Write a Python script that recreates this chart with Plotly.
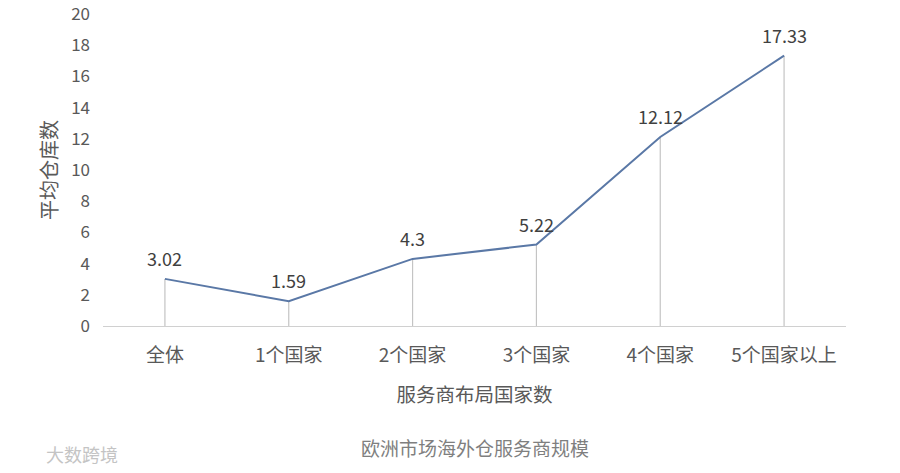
import plotly.graph_objects as go

categories = ["全体", "1个国家", "2个国家", "3个国家", "4个国家", "5个国家以上"]
avg_warehouses = [3.02, 1.59, 4.3, 5.22, 12.12, 17.33]
value_labels = ["3.02", "1.59", "4.3", "5.22", "12.12", "17.33"]
y_ticks = list(range(0, 21, 2))

FONT = "Noto Sans CJK SC, Noto Sans, sans-serif"

fig = go.Figure()

# vertical drop lines from each point to the baseline
fig.add_trace(go.Scatter(
    x=categories, y=avg_warehouses, mode="markers",
    marker=dict(size=0.1, color="rgba(0,0,0,0)"),
    error_y=dict(type="data", symmetric=False,
                 array=[0] * len(avg_warehouses), arrayminus=avg_warehouses,
                 color="#c4c4c4", thickness=1.2, width=0),
    hoverinfo="skip", showlegend=False,
))

# main line
fig.add_trace(go.Scatter(
    x=categories, y=avg_warehouses, mode="lines",
    line=dict(color="#5a78a6", width=2),
    showlegend=False,
))

# value labels above each point
label_annotations = [
    dict(x=c, y=v, text=t, xref="x", yref="y", showarrow=False,
         yanchor="bottom", yshift=6,
         font=dict(size=18, color="#404040", family=FONT))
    for c, v, t in zip(categories, avg_warehouses, value_labels)
]

fig.update_layout(
    width=900, height=473,
    margin=dict(l=103, r=54, t=14, b=147),
    paper_bgcolor="white", plot_bgcolor="white",
    font=dict(family=FONT, color="#595959"),
    xaxis=dict(
        type="category", range=[-0.5, 5.5], automargin=False,
        showgrid=False, showline=True, linecolor="#d0d0d0", linewidth=1,
        ticks="", ticklabelstandoff=12, tickfont=dict(size=19, color="#595959"),
        title=dict(text="服务商布局国家数", font=dict(size=19.5, color="#595959"), standoff=22),
    ),
    yaxis=dict(
        range=[0, 20], tickvals=y_ticks, automargin=False,
        showgrid=False, zeroline=False, showline=False,
        ticks="", ticklabelstandoff=12, ticklabeloverflow="allow",
        tickfont=dict(size=17, color="#595959"),
        title=dict(text="平均仓库数", font=dict(size=20, color="#595959"), standoff=8),
    ),
    annotations=label_annotations + [
        dict(text="欧洲市场海外仓服务商规模", xref="paper", yref="paper",
             x=0.5, y=-0.39, xanchor="center", yanchor="middle", showarrow=False,
             font=dict(size=19, color="#7f7f7f", family=FONT)),
        dict(text="大数跨境", xref="paper", yref="paper",
             x=-0.028, y=-0.41, xanchor="center", yanchor="middle", showarrow=False,
             font=dict(size=18, color="#c4c4c4", family=FONT)),
    ],
)

fig.write_html("out.html")
